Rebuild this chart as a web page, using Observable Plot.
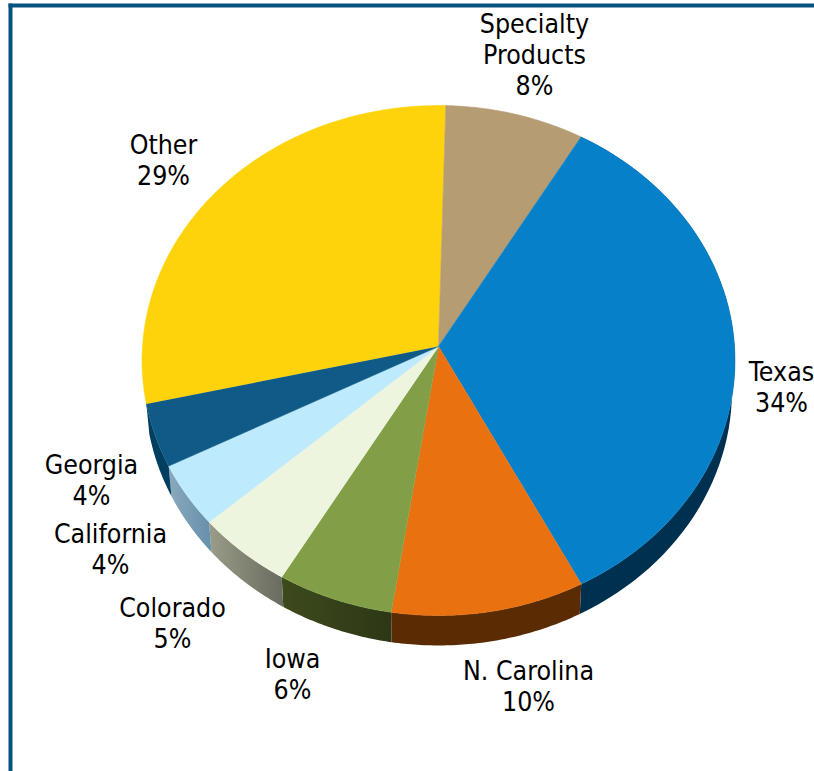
<!DOCTYPE html>
<html>
<head>
<meta charset="utf-8">
<style>html,body{margin:0;padding:0;background:#fff}svg{display:block}</style>
<script src="https://cdn.jsdelivr.net/npm/d3@7"></script>
<script src="https://cdn.jsdelivr.net/npm/@observablehq/plot@0.6"></script>
</head>
<body>
<div id="chart"></div>
<script>
// Revenue share by region, clockwise from the top of the pie.
const regions = ["Specialty Products", "Texas", "N. Carolina", "Iowa", "Colorado", "California", "Georgia", "Other"];
const shares = [8, 34, 10, 6, 5, 4, 4, 29];

// Face colours, and wall colours as [left, right] stops.
const faceColors = ["#b59c72", "#0680c8", "#e97110", "#829f48", "#eef5de", "#bdeafd", "#0f5a87", "#fed30c"];
const wallColors = [["#5a4e39", "#5a4e39"], ["#00304f", "#00304f"], ["#5b2c04", "#5b2c04"], ["#3d4a1c", "#2d3717"],
  ["#9a9c88", "#686b5e"], ["#8aa9bd", "#6690ac"], ["#003f60", "#003f60"], ["#7f6905", "#7f6905"]];

// Label centres, measured from the pie's apex, with lines stacked inside each label.
const labelLines = ["Specialty\nProducts\n8%", "Texas\n34%", "N. Carolina\n10%", "Iowa\n6%", "Colorado\n5%", "California\n4%", "Georgia\n4%", "Other\n29%"];
const labelX = [96, 343, 90, -146, -266, -328, -347, -275];
const labelY = [292, -40, -339, -327, -276, -202, -133, 187];

// Perspective view of the pie disc: apex-centred, with the far edge foreshortened.
const radiusX = 296, radiusY = 254.2, tilt = 0.0549, depth = 30, wallShrink = 0.99;
const rotation = 1.5 * Math.PI / 180;

function rim(angle, lowered = false) {
  const u = Math.sin(angle), v = Math.cos(angle), d = 1 + tilt * v;
  const scale = lowered ? wallShrink : 1;
  return {x: scale * radiusX * u / d, y: radiusY * v / d - (lowered ? depth : 0)};
}

const arcs = d3.pie().sort(null).value(d => d).startAngle(rotation).endAngle(rotation + 2 * Math.PI)(shares);

function arcAngles(a) {
  return d3.range(0, 61).map(i => a.startAngle + (a.endAngle - a.startAngle) * i / 60);
}
const facePoints = arcs.map(a => [{x: 0, y: 0}, ...arcAngles(a).map(t => rim(t))]);
const wallPoints = arcs.map(a => [...arcAngles(a).map(t => rim(t)), ...arcAngles(a).reverse().map(t => rim(t, true))]);

const gradients = () => {
  const defs = document.createElementNS("http://www.w3.org/2000/svg", "defs");
  defs.innerHTML = wallColors.map((c, i) =>
    `<linearGradient id="wall${i}"><stop offset="0" stop-color="${c[0]}"/><stop offset="1" stop-color="${c[1]}"/></linearGradient>`).join("");
  return defs;
};

// Only the slices along the near rim show a wall; the faces are painted over them.
const wallOrder = [1, 2, 3, 4, 5, 6];
const faceOrder = [7, 0, 1, 2, 3, 4, 5, 6];
const chart = Plot.plot({
  width: 814,
  height: 771,
  marginLeft: 10,
  marginTop: 5,
  marginRight: 0,
  marginBottom: 0,
  style: {background: "#fff", fontFamily: "'DejaVu Sans Condensed', 'DejaVu Sans', sans-serif"},
  x: {axis: null, domain: [10 - 438, 814 - 438]},
  y: {axis: null, domain: [346 - 771, 346 - 5]},
  marks: [
    gradients,
    Plot.frame({anchor: "left", stroke: "#04527f", strokeWidth: 4, strokeLinecap: "square"}),
    Plot.frame({anchor: "top", stroke: "#04527f", strokeWidth: 4, strokeLinecap: "square"}),
    ...wallOrder.map(i => Plot.line(wallPoints[i], {x: "x", y: "y", fill: `url(#wall${i})`, stroke: "none"})),
    ...faceOrder.map(i => Plot.line(facePoints[i], {x: "x", y: "y", fill: faceColors[i], stroke: faceColors[i], strokeWidth: 0.6})),
    Plot.text(regions, {
      x: (d, i) => labelX[i],
      y: (d, i) => labelY[i],
      text: (d, i) => labelLines[i],
      fontSize: 26.5,
      lineHeight: 1.17,
      fill: "#000"
    })
  ]
});
document.getElementById("chart").append(chart);
</script>
</body>
</html>
